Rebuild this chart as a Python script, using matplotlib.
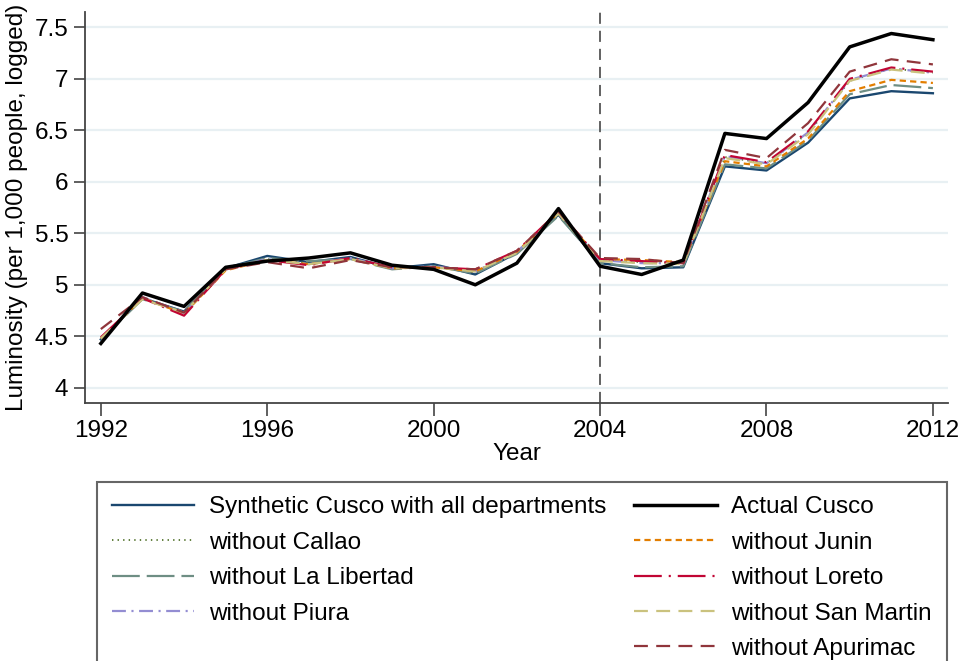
import matplotlib
matplotlib.use('Agg')
import matplotlib.pyplot as plt
from matplotlib.lines import Line2D

plt.rcParams['font.family'] = ['Liberation Sans', 'DejaVu Sans']
plt.rcParams['lines.scale_dashes'] = False

# dados
anos = list(range(1992, 2013))

sintetico = [4.47, 4.87, 4.74, 5.16, 5.28, 5.22, 5.27, 5.16, 5.20, 5.10, 5.31,
             5.68, 5.21, 5.16, 5.17, 6.15, 6.11, 6.38, 6.81, 6.88, 6.86]
cusco = [4.43, 4.92, 4.79, 5.17, 5.23, 5.26, 5.31, 5.19, 5.15, 5.00, 5.21,
         5.74, 5.18, 5.10, 5.24, 6.47, 6.42, 6.77, 7.31, 7.44, 7.38]
sem_callao = [4.48, 4.87, 4.73, 5.15, 5.25, 5.21, 5.26, 5.16, 5.18, 5.12, 5.32,
              5.69, 5.24, 5.22, 5.21, 6.24, 6.18, 6.47, 6.98, 7.10, 7.06]
sem_junin = [4.48, 4.87, 4.72, 5.14, 5.24, 5.20, 5.25, 5.16, 5.17, 5.13, 5.32,
             5.70, 5.25, 5.24, 5.22, 6.20, 6.15, 6.42, 6.88, 6.99, 6.96]
sem_libertad = [4.47, 4.86, 4.74, 5.16, 5.26, 5.23, 5.25, 5.15, 5.18, 5.11, 5.30,
                5.67, 5.21, 5.17, 5.18, 6.17, 6.13, 6.40, 6.85, 6.94, 6.91]
sem_loreto = [4.49, 4.87, 4.70, 5.15, 5.24, 5.19, 5.26, 5.17, 5.17, 5.15, 5.33,
              5.71, 5.25, 5.23, 5.21, 6.26, 6.19, 6.49, 7.00, 7.11, 7.07]
sem_piura = [4.48, 4.88, 4.72, 5.15, 5.25, 5.20, 5.26, 5.16, 5.18, 5.13, 5.32,
             5.70, 5.24, 5.21, 5.21, 6.25, 6.18, 6.48, 6.99, 7.10, 7.06]
sem_sanmartin = [4.48, 4.86, 4.73, 5.15, 5.24, 5.20, 5.25, 5.16, 5.17, 5.13, 5.31,
                 5.69, 5.23, 5.21, 5.20, 6.23, 6.17, 6.46, 6.98, 7.09, 7.05]
sem_apurimac = [4.57, 4.88, 4.73, 5.15, 5.22, 5.16, 5.24, 5.17, 5.17, 5.15, 5.33,
                5.71, 5.26, 5.25, 5.21, 6.31, 6.23, 6.57, 7.07, 7.19, 7.14]

ano_tratamento = 2004
yticks = [4, 4.5, 5, 5.5, 6, 6.5, 7, 7.5]
ytick_labels = ['4', '4.5', '5', '5.5', '6', '6.5', '7', '7.5']
xticks = [1992, 1996, 2000, 2004, 2008, 2012]

fs = 17.5

fig = plt.figure(figsize=(9.63, 6.61), dpi=100)
ax = fig.add_axes([0.0883, 0.39, 0.896, 0.592])

# grade horizontal
for v in yticks:
    ax.axhline(v, color='#e8f0f3', lw=1.6, zorder=0)

ax.plot(anos, sintetico, color='#1a476f', lw=1.7, label='Synthetic Cusco with all departments')
ax.plot(anos, sem_callao, color='#55752f', lw=1.3, dashes=(1, 3), label='without Callao')
ax.plot(anos, sem_libertad, color='#6e8e84', lw=1.6, dashes=(20, 5), label='without La Libertad')
ax.plot(anos, sem_piura, color='#938dd2', lw=1.6, dashes=(10, 4, 1.5, 4), label='without Piura')
ax.plot(anos, sem_junin, color='#e37e00', lw=1.6, dashes=(4.5, 3), label='without Junin')
ax.plot(anos, sem_loreto, color='#c10534', lw=1.6, dashes=(20, 5, 1.5, 5), label='without Loreto')
ax.plot(anos, sem_sanmartin, color='#cac27e', lw=1.6, dashes=(10, 6), label='without San Martin')
ax.plot(anos, sem_apurimac, color='#90353b', lw=1.6, dashes=(10, 6), label='without Apurimac')
ax.plot(anos, cusco, color='black', lw=2.5, label='Actual Cusco', zorder=5)

ax.axvline(ano_tratamento, color='#555555', lw=1.3, dashes=(8, 5), zorder=1)

ax.set_xlim(1991.62, 2012.36)
ax.set_ylim(3.85, 7.65)
ax.set_xticks(xticks)
ax.set_yticks(yticks)
ax.set_yticklabels(ytick_labels)
ax.tick_params(labelsize=fs, length=8, width=1.2, color='#444444', pad=4)
ax.tick_params(axis='x', length=9, pad=3)

for lado in ['top', 'right']:
    ax.spines[lado].set_visible(False)
for lado in ['left', 'bottom']:
    ax.spines[lado].set_color('#444444')
    ax.spines[lado].set_linewidth(1.3)

ax.set_xlabel('Year', fontsize=fs, labelpad=1)
ax.set_ylabel('Luminosity (per 1,000 people, logged)', fontsize=fs, labelpad=5)

# legenda em duas colunas (4 à esquerda, 5 à direita)
h, l = ax.get_legend_handles_labels()
d = dict(zip(l, h))
vazio = Line2D([], [], color='none')
ordem = ['Synthetic Cusco with all departments', 'without Callao', 'without La Libertad',
         'without Piura', None, 'Actual Cusco', 'without Junin', 'without Loreto',
         'without San Martin', 'without Apurimac']
handles = [d[k] if k else vazio for k in ordem]
labels = [k if k else '' for k in ordem]
leg = fig.legend(handles, labels, ncol=2, loc='upper left', bbox_to_anchor=(0.1007, 0.271),
                 fontsize=fs, frameon=True, fancybox=False, handlelength=3.4,
                 handletextpad=0.6, columnspacing=1.15, labelspacing=0.55,
                 borderpad=0.6, borderaxespad=0)
leg.get_frame().set_edgecolor('#404040')
leg.get_frame().set_linewidth(1.5)

fig.savefig('out.png', dpi=100)
